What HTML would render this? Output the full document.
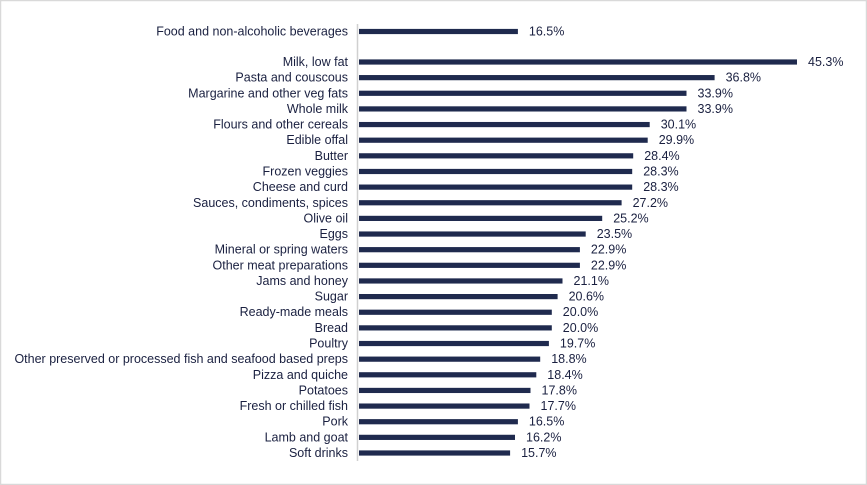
<!DOCTYPE html>
<html><head><meta charset="utf-8"><style>
html,body{margin:0;padding:0;background:#fff}
svg{display:block}
text{font-family:"Liberation Sans",Arial,sans-serif;font-size:12.5px;fill:#1a2040}
.l{text-anchor:end}
.v{transform:translateX(4px)}
rect.b{fill:#1f2a4e}
</style></head><body>
<svg width="867" height="485" xmlns="http://www.w3.org/2000/svg">
<rect x="0.5" y="0.5" width="866" height="484" fill="#fff" stroke="#d9d9d9" stroke-width="1.5"/>
<line x1="357.5" y1="24" x2="357.5" y2="461" stroke="#d0d0d0" stroke-width="1.5"/>
<g transform="translate(0,31.5)"><rect class="b" x="359" y="-2.6" width="158.9" height="5.2"/><text class="l" x="348" y="4">Food and non-alcoholic beverages</text><text x="528.9" y="4">16.5%</text></g>
<g transform="translate(0,62)"><rect class="b" x="359" y="-2.6" width="438" height="5.2"/><text class="l" x="348" y="4">Milk, low fat</text><text x="808" y="4">45.3%</text></g>
<g transform="translate(0,77.64)"><rect class="b" x="359" y="-2.6" width="355.6" height="5.2"/><text class="l" x="348" y="4">Pasta and couscous</text><text x="725.6" y="4">36.8%</text></g>
<g transform="translate(0,93.28)"><rect class="b" x="359" y="-2.6" width="327.5" height="5.2"/><text class="l" x="348" y="4">Margarine and other veg fats</text><text x="697.5" y="4">33.9%</text></g>
<g transform="translate(0,108.92)"><rect class="b" x="359" y="-2.6" width="327.5" height="5.2"/><text class="l" x="348" y="4">Whole milk</text><text x="697.5" y="4">33.9%</text></g>
<g transform="translate(0,124.56)"><rect class="b" x="359" y="-2.6" width="290.7" height="5.2"/><text class="l" x="348" y="4">Flours and other cereals</text><text x="660.7" y="4">30.1%</text></g>
<g transform="translate(0,140.2)"><rect class="b" x="359" y="-2.6" width="288.7" height="5.2"/><text class="l" x="348" y="4">Edible offal</text><text x="658.7" y="4">29.9%</text></g>
<g transform="translate(0,155.84)"><rect class="b" x="359" y="-2.6" width="274.2" height="5.2"/><text class="l" x="348" y="4">Butter</text><text x="644.2" y="4">28.4%</text></g>
<g transform="translate(0,171.48)"><rect class="b" x="359" y="-2.6" width="273.2" height="5.2"/><text class="l" x="348" y="4">Frozen veggies</text><text x="643.2" y="4">28.3%</text></g>
<g transform="translate(0,187.12)"><rect class="b" x="359" y="-2.6" width="273.2" height="5.2"/><text class="l" x="348" y="4">Cheese and curd</text><text x="643.2" y="4">28.3%</text></g>
<g transform="translate(0,202.76)"><rect class="b" x="359" y="-2.6" width="262.6" height="5.2"/><text class="l" x="348" y="4">Sauces, condiments, spices</text><text x="632.6" y="4">27.2%</text></g>
<g transform="translate(0,218.4)"><rect class="b" x="359" y="-2.6" width="243.2" height="5.2"/><text class="l" x="348" y="4">Olive oil</text><text x="613.2" y="4">25.2%</text></g>
<g transform="translate(0,234.04)"><rect class="b" x="359" y="-2.6" width="226.7" height="5.2"/><text class="l" x="348" y="4">Eggs</text><text x="596.7" y="4">23.5%</text></g>
<g transform="translate(0,249.68)"><rect class="b" x="359" y="-2.6" width="220.9" height="5.2"/><text class="l" x="348" y="4">Mineral or spring waters</text><text x="590.9" y="4">22.9%</text></g>
<g transform="translate(0,265.32)"><rect class="b" x="359" y="-2.6" width="220.9" height="5.2"/><text class="l" x="348" y="4">Other meat preparations</text><text x="590.9" y="4">22.9%</text></g>
<g transform="translate(0,280.96)"><rect class="b" x="359" y="-2.6" width="203.5" height="5.2"/><text class="l" x="348" y="4">Jams and honey</text><text x="573.5" y="4">21.1%</text></g>
<g transform="translate(0,296.6)"><rect class="b" x="359" y="-2.6" width="198.6" height="5.2"/><text class="l" x="348" y="4">Sugar</text><text x="568.6" y="4">20.6%</text></g>
<g transform="translate(0,312.24)"><rect class="b" x="359" y="-2.6" width="192.8" height="5.2"/><text class="l" x="348" y="4">Ready-made meals</text><text x="562.8" y="4">20.0%</text></g>
<g transform="translate(0,327.88)"><rect class="b" x="359" y="-2.6" width="192.8" height="5.2"/><text class="l" x="348" y="4">Bread</text><text x="562.8" y="4">20.0%</text></g>
<g transform="translate(0,343.52)"><rect class="b" x="359" y="-2.6" width="189.9" height="5.2"/><text class="l" x="348" y="4">Poultry</text><text x="559.9" y="4">19.7%</text></g>
<g transform="translate(0,359.16)"><rect class="b" x="359" y="-2.6" width="181.2" height="5.2"/><text class="l" x="348" y="4">Other preserved or processed fish and seafood based preps</text><text x="551.2" y="4">18.8%</text></g>
<g transform="translate(0,374.8)"><rect class="b" x="359" y="-2.6" width="177.3" height="5.2"/><text class="l" x="348" y="4">Pizza and quiche</text><text x="547.3" y="4">18.4%</text></g>
<g transform="translate(0,390.44)"><rect class="b" x="359" y="-2.6" width="171.5" height="5.2"/><text class="l" x="348" y="4">Potatoes</text><text x="541.5" y="4">17.8%</text></g>
<g transform="translate(0,406.08)"><rect class="b" x="359" y="-2.6" width="170.5" height="5.2"/><text class="l" x="348" y="4">Fresh or chilled fish</text><text x="540.5" y="4">17.7%</text></g>
<g transform="translate(0,421.72)"><rect class="b" x="359" y="-2.6" width="158.9" height="5.2"/><text class="l" x="348" y="4">Pork</text><text x="528.9" y="4">16.5%</text></g>
<g transform="translate(0,437.36)"><rect class="b" x="359" y="-2.6" width="156" height="5.2"/><text class="l" x="348" y="4">Lamb and goat</text><text x="526" y="4">16.2%</text></g>
<g transform="translate(0,453)"><rect class="b" x="359" y="-2.6" width="151.1" height="5.2"/><text class="l" x="348" y="4">Soft drinks</text><text x="521.1" y="4">15.7%</text></g>
</svg>
</body></html>
